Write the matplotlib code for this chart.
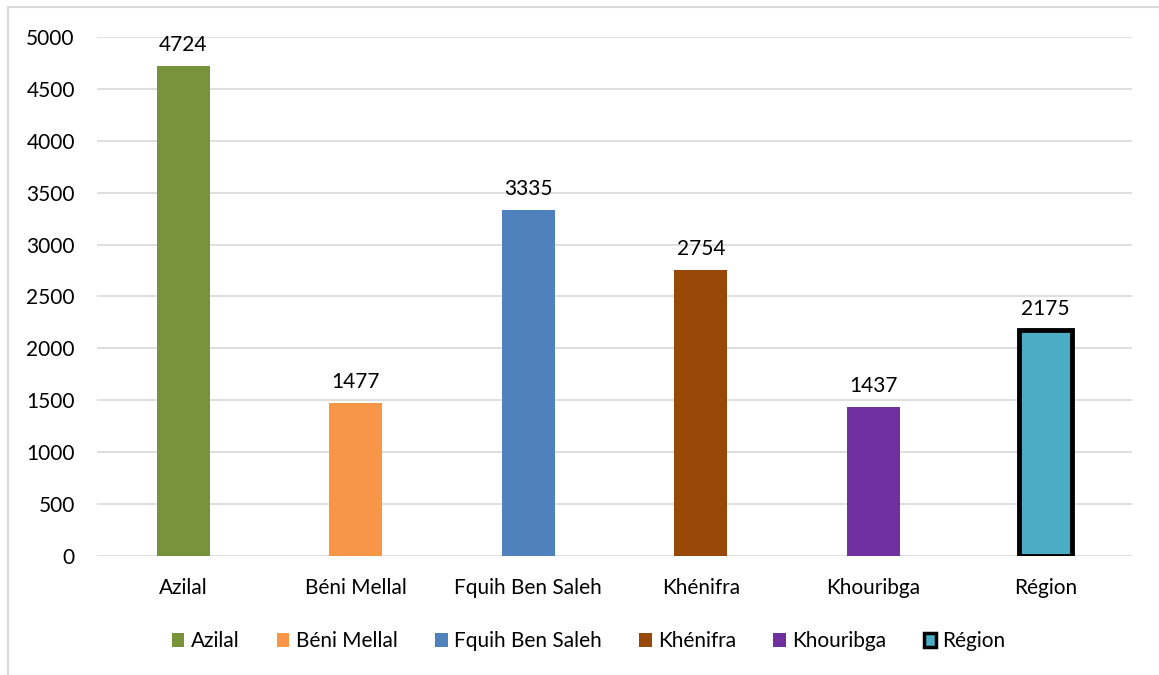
import matplotlib.pyplot as plt
from matplotlib.patches import Patch, Rectangle

# Données
provinces = ['Azilal', 'Béni Mellal', 'Fquih Ben Saleh', 'Khénifra', 'Khouribga', 'Région']
valeurs = [4724, 1477, 3335, 2754, 1437, 2175]
couleurs = ['#77933C', '#F79646', '#4F81BD', '#984807', '#7030A0', '#4BACC6']
graduations = [0, 500, 1000, 1500, 2000, 2500, 3000, 3500, 4000, 4500, 5000]

plt.rcParams['font.family'] = ['Lato', 'DejaVu Sans']

fig = plt.figure(figsize=(11.59, 6.75), dpi=100)
ax = fig.add_axes([0.0837, 0.1763, 0.893, 0.7689])

x = range(len(provinces))
bars = ax.bar(x, valeurs, width=0.31, color=couleurs, zorder=3)
# la barre Région a un contour noir épais
bars[-1].set_edgecolor('black')
bars[-1].set_linewidth(3.5)

for i, v in enumerate(valeurs):
    ax.annotate(str(v), (i, v), xytext=(0, 8), textcoords='offset points',
                ha='center', va='bottom', fontsize=15)

ax.set_xlim(-0.5, len(provinces) - 0.5)
ax.set_ylim(0, 5000)
ax.set_yticks(graduations)
ax.set_xticks(list(x))
ax.set_xticklabels(provinces)
ax.tick_params(axis='both', length=0, labelsize=15)
ax.tick_params(axis='y', pad=16)
ax.tick_params(axis='x', pad=16)
ax.grid(axis='y', color='#d9d9d9', linewidth=1.2, zorder=0)
for s in ax.spines.values():
    s.set_visible(False)

handles = [Patch(facecolor=c, label=p) for c, p in zip(couleurs[:-1], provinces[:-1])]
handles.append(Patch(facecolor=couleurs[-1], edgecolor='black', linewidth=2.5, label=provinces[-1]))
fig.legend(handles=handles, loc='center', bbox_to_anchor=(0.508, 0.05), ncol=6,
           frameon=False, fontsize=15, handlelength=0.6, handleheight=0.6,
           handletextpad=0.3, columnspacing=1.8)

# cadre gris clair du graphique
fig.patches.append(Rectangle((8 / 1159, -0.01), 1.02, 1 - 7 / 675 + 0.01,
                             transform=fig.transFigure, fill=False,
                             edgecolor='#d9d9d9', linewidth=1.5))

fig.savefig('out.png', dpi=100)
